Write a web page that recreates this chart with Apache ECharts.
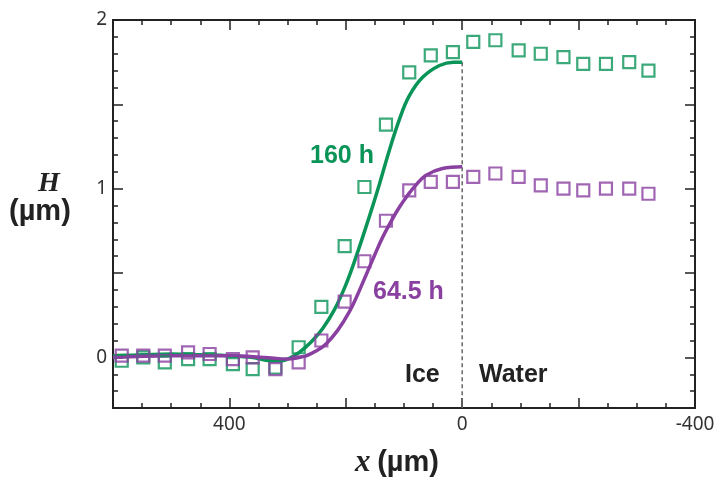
<!DOCTYPE html>
<html lang="en">
<head>
    <meta charset="UTF-8">
    <title>H vs x</title>
    <script src="https://cdn.jsdelivr.net/npm/echarts@6/dist/echarts.min.js"></script>
</head>
<body style="margin:0;background:#fff;">
<div id="main" style="width: 724px;height:486px;"></div>
<script type="text/javascript">
    // 测量点位置 (µm)
    var xPoints = [585, 548, 511, 471, 434, 394, 360, 321, 281, 242, 202, 168, 131,
        91, 54, 16, -19, -57, -97, -135, -174, -208, -247, -287, -320];
    // 160 h 数据点
    var h160Points = [-0.02, 0.0, -0.03, -0.01, -0.01, -0.04, -0.07, -0.06, 0.06, 0.30, 0.66, 1.01, 1.38,
        1.69, 1.79, 1.81, 1.87, 1.88, 1.82, 1.80, 1.78, 1.74, 1.74, 1.75, 1.70];
    // 64.5 h 数据点
    var h645Points = [0.01, 0.01, 0.01, 0.03, 0.02, -0.01, 0.0, -0.07, -0.03, 0.10, 0.33, 0.57, 0.81,
        0.99, 1.04, 1.04, 1.07, 1.09, 1.07, 1.02, 1.00, 0.99, 1.00, 1.00, 0.97];

    // 拟合曲线 (x 从小到大)
    var x160Curve = [0, 15, 39, 68, 91, 108, 125, 142, 160, 182, 200, 220, 240, 260, 280, 297, 310, 330, 360, 400, 450, 500, 550, 600];
    var h160Curve = [1.75, 1.75, 1.73, 1.66, 1.55, 1.41, 1.23, 1.03, 0.83, 0.60, 0.43, 0.28, 0.17, 0.09, 0.03, -0.005, -0.02, -0.02, 0.0, 0.01, 0.015, 0.02, 0.015, 0.01];
    var x645Curve = [0, 34, 62, 80, 94, 108, 120, 137, 150, 165, 180, 194, 214, 234, 250, 268, 300, 340, 400, 500, 600];
    var h645Curve = [1.13, 1.12, 1.08, 1.02, 0.96, 0.89, 0.82, 0.71, 0.61, 0.49, 0.37, 0.27, 0.16, 0.08, 0.04, 0.01, -0.01, 0.0, 0.01, 0.01, 0.0];

    var xTickLabels = [400, 0, -400];
    var yTickLabels = [0, 1, 2];
    var yMajorTicks = [0, 0.5, 1, 1.5, 2];

    var green = '#0a9458';
    var purple = '#8a40a0';
    var xMin = -400, xMax = 600, yMin = -0.3, yMax = 2;

    function pairs(xs, ys) {
        var out = [];
        for (var i = 0; i < xs.length; i++) {
            out.push([xs[i], ys[i]]);
        }
        return out;
    }

    var lineStyleAxis = {color: '#222', width: 2};
    var tickLine = {color: '#222', width: 1.5};
    var gridBox = {left: 113, right: 29, top: 20, bottom: 78};

    function xAx(grid, pos, interval, len, labels) {
        return {
            type: 'value', gridIndex: grid, position: pos, inverse: true,
            min: xMin, max: xMax, interval: interval,
            axisLine: {onZero: false, lineStyle: lineStyleAxis},
            axisTick: {show: true, inside: true, length: len, lineStyle: tickLine},
            splitLine: {show: false},
            axisLabel: {
                show: labels, margin: 7, color: '#333', fontSize: 19, fontFamily: 'Noto Sans',
                formatter: function (v) {
                    return xTickLabels.indexOf(v) >= 0 ? String(v) : '';
                }
            }
        };
    }

    function yAx(grid, pos, major, labels) {
        var ax = {
            type: 'value', gridIndex: grid, position: pos, min: yMin, max: yMax,
            axisLine: {onZero: false, lineStyle: lineStyleAxis},
            axisTick: {inside: true, length: major ? 10 : 5, lineStyle: tickLine},
            axisLabel: {show: false},
            splitLine: {show: false}
        };
        if (major) {
            ax.axisTick.customValues = yMajorTicks;
        } else {
            ax.interval = 0.1;
        }
        if (labels) {
            ax.axisLabel = {customValues: yTickLabels, margin: 6, color: '#333', fontSize: 19, fontFamily: 'Noto Sans'};
        }
        return ax;
    }

    var myChart = echarts.init(document.getElementById('main'));
    var option = {
        backgroundColor: '#fff',
        animation: false,
        grid: [
            Object.assign({}, gridBox),
            Object.assign({}, gridBox)
        ],
        xAxis: [
            xAx(0, 'bottom', 50, 5, false),
            xAx(0, 'top', 50, 5, false),
            xAx(1, 'bottom', 200, 10, true),
            xAx(1, 'top', 200, 10, false)
        ],
        yAxis: [
            yAx(0, 'left', false, false),
            yAx(0, 'right', false, false),
            yAx(1, 'left', true, true),
            yAx(1, 'right', true, false)
        ],
        series: [
            {
                name: 'boundary', type: 'line', xAxisIndex: 0, yAxisIndex: 0,
                data: [[0, h160Curve[0]], [0, yMin]],
                symbol: 'none',
                lineStyle: {color: '#666', width: 1.5, type: [4, 3]},
                z: 1
            },
            {
                name: '160 h fit', type: 'line', xAxisIndex: 0, yAxisIndex: 0,
                data: pairs(x160Curve, h160Curve), smooth: 0.4, symbol: 'none',
                lineStyle: {color: green, width: 3.5}, z: 3
            },
            {
                name: '64.5 h fit', type: 'line', xAxisIndex: 0, yAxisIndex: 0,
                data: pairs(x645Curve, h645Curve), smooth: 0.4, symbol: 'none',
                lineStyle: {color: purple, width: 3.5}, z: 3
            },
            {
                name: '160 h', type: 'scatter', xAxisIndex: 0, yAxisIndex: 0,
                data: pairs(xPoints, h160Points), symbol: 'rect', symbolSize: 12,
                itemStyle: {color: 'rgba(255,255,255,0)', borderColor: green, borderWidth: 2.2}, z: 4
            },
            {
                name: '64.5 h', type: 'scatter', xAxisIndex: 0, yAxisIndex: 0,
                data: pairs(xPoints, h645Points), symbol: 'rect', symbolSize: 12,
                itemStyle: {color: 'rgba(255,255,255,0)', borderColor: purple, borderWidth: 2.2}, z: 4
            }
        ],
        graphic: [
            {
                type: 'text', left: 310, top: 144,
                style: {text: '160 h', fill: green, font: 'bold 25px "Liberation Sans"'}
            },
            {
                type: 'text', left: 373, top: 280,
                style: {text: '64.5 h', fill: purple, font: 'bold 25px "Liberation Sans"'}
            },
            {
                type: 'text', left: 405, top: 363,
                style: {text: 'Ice', fill: '#222', font: 'bold 25px "Liberation Sans"'}
            },
            {
                type: 'text', left: 479, top: 363,
                style: {text: 'Water', fill: '#222', font: 'bold 25px "Liberation Sans"'}
            },
            {
                type: 'text', left: 38, top: 170,
                style: {text: 'H', fill: '#222', font: 'italic bold 28px "Liberation Serif"'}
            },
            {
                type: 'text', left: 9, top: 197,
                style: {text: '(µm)', fill: '#222', font: 'bold 29px "Liberation Sans"'}
            },
            {
                type: 'text', left: 355, top: 447,
                style: {
                    text: '{x|x}  {u|(µm)}',
                    rich: {
                        x: {font: 'italic bold 31px "Liberation Serif"', fill: '#222'},
                        u: {font: 'bold 29px "Liberation Sans"', fill: '#222'}
                    }
                }
            }
        ]
    };
    myChart.setOption(option);
</script>
</body>
</html>
